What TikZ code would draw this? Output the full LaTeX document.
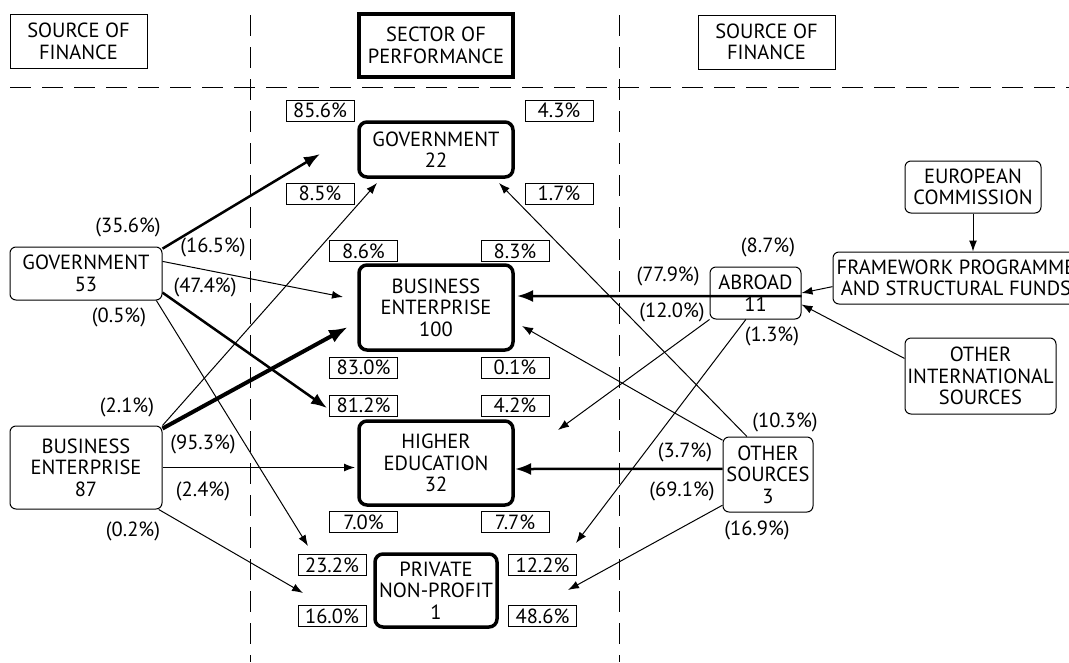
\documentclass[tikz,border=0pt]{standalone}
\usepackage{fontspec}
\setmainfont{PT Sans}
\usetikzlibrary{arrows.meta,positioning}
\tikzset{every picture/.style={
  >={Latex[length=11pt,width=8pt]}   % Filled LaTeX style heads.
  }
}

\begin{document}
\begin{tikzpicture}[
    x=1pt,y=-1pt,
    font=\fontsize{20.5}{21.5}\selectfont,
    headbox/.style={
      rectangle,
      draw,
      line width=1pt,
      align=center,
      inner sep=0pt,
      minimum width=137pt,
      minimum height=54pt
    },
    secbox/.style={
      rectangle,
      rounded corners=8pt,
      draw,
      line width=3.5pt,
      align=center,
      inner sep=0pt,
      minimum width=154pt
    },
    srcbox/.style={
      rectangle,
      rounded corners=6pt,
      draw,
      line width=1pt,
      align=center,
      inner sep=0pt
    },
    pctbox/.style={
      rectangle,
      draw,
      line width=1pt,
      inner sep=0pt,
      minimum width=68pt,
      minimum height=21pt
    },
    share/.style={inner sep=0pt},
    flow/.style={->,line width=1pt},
    bigflow/.style={-{Latex[length=16pt,width=12pt]},line width=2.5pt},
    hugeflow/.style={-{Latex[length=19pt,width=14pt]},line width=4pt},
    divider/.style={dash pattern=on 21pt off 11pt,line width=1pt}
  ]

    \useasboundingbox (0,0) rectangle (1069,662);
    \clip (0,0) rectangle (1069,662);

    % Split the page into the three columns.
    \draw[divider] (10,87) -- (1069,87);
    \draw[divider] (250,15) -- (250,662);
    \draw[divider] (619,15) -- (619,662);

    \node[headbox] (lhead) at (78.5,41.5) {SOURCE OF\\FINANCE};
    \node[headbox,line width=4pt,minimum width=154pt,minimum height=63pt]
      (shead) at (436,45.5) {SECTOR OF\\PERFORMANCE};
    \node[headbox] (rhead) at (766.5,42) {SOURCE OF\\FINANCE};

    % Sectors of performance.
    \node[secbox,minimum height=55pt] (sgov) at (436,149.5) {GOVERNMENT\\22};
    \node[secbox,minimum height=85pt] (sbus) at (436,307.5)
      {BUSINESS\\ENTERPRISE\\100};
    \node[secbox,minimum height=84pt] (shed) at (436,463)
      {HIGHER\\EDUCATION\\32};
    \node[secbox,minimum width=122pt,minimum height=73pt] (spnp) at (436,590.5)
      {PRIVATE\\NON-PROFIT\\1};

    % Shares of each sector's funds.
    \node[pctbox] (p856) at (320,110.5) {85.6\%};
    \node[pctbox] (p85)  at (320,193.5) {8.5\%};
    \node[pctbox] (p43)  at (559,110.5) {4.3\%};
    \node[pctbox] (p17)  at (559,193.5) {1.7\%};
    \node[pctbox] (p86)  at (363.5,251) {8.6\%};
    \node[pctbox] (p83)  at (515,251)   {8.3\%};
    \node[pctbox] (p830) at (363.5,367.5) {83.0\%};
    \node[pctbox] (p01)  at (515,367.5) {0.1\%};
    \node[pctbox] (p812) at (363.5,405.5) {81.2\%};
    \node[pctbox] (p42)  at (515,405.5) {4.2\%};
    \node[pctbox] (p70)  at (363.5,522) {7.0\%};
    \node[pctbox] (p77)  at (515,522)   {7.7\%};
    \node[pctbox] (p232) at (332,565)   {23.2\%};
    \node[pctbox] (p160) at (332,616)   {16.0\%};
    \node[pctbox] (p122) at (542.5,565) {12.2\%};
    \node[pctbox] (p486) at (542.5,616) {48.6\%};

    % Sources of finance.
    \node[srcbox,minimum width=152pt,minimum height=53pt] (fgov) at (86,273.5)
      {GOVERNMENT\\53};
    \node[srcbox,minimum width=152pt,minimum height=83pt] (fbus) at (86,467.5)
      {BUSINESS\\ENTERPRISE\\87};
    \node[srcbox,minimum width=91pt,minimum height=52pt] (fabr) at (755.5,293)
      {ABROAD\\11};
    \node[srcbox,minimum width=90pt,minimum height=75pt] (foth) at (768,474.5)
      {OTHER\\SOURCES\\3};
    \node[srcbox,minimum width=246pt,minimum height=52pt] (fwp) at (956,278)
      {FRAMEWORK PROGRAMME\\AND STRUCTURAL FUNDS};
    \node[srcbox,minimum width=136pt,minimum height=52pt,above=38pt of fwp.north,
      anchor=south,xshift=17pt] (eucom) {EUROPEAN\\COMMISSION};
    \node[srcbox,minimum width=151pt,minimum height=76pt] (oint) at (980.5,376)
      {OTHER\\INTERNATIONAL\\SOURCES};

    % Where the flows end.
    \coordinate (gg) at (320,154);
    \coordinate (gb) at (343,297);
    \coordinate (gh) at (327,408);
    \coordinate (gp) at (308,546);
    \coordinate (bg) at (377,183);
    \coordinate (bb) at (348,327);
    \coordinate (bh) at (355,467.5);
    \coordinate (bp) at (303,593);
    \coordinate (ab) at (517,296);
    \coordinate (ah) at (558,430);
    \coordinate (ap) at (576,543);
    \coordinate (og) at (499,183);
    \coordinate (ob) at (522,326);
    \coordinate (oh) at (515,469);
    \coordinate (op) at (568,590);

    \draw[bigflow] (fgov.18) -- (gg);
    \draw[flow] (fgov.9) -- (gb);
    \draw[bigflow] (fgov.-14) -- (gh);
    \draw[flow] (fgov.-21) -- (gp);
    \draw[flow] (fbus.north east) -- (bg);
    \draw[hugeflow] (fbus.27) -- (bb);
    \draw[flow] (fbus.east) -- (bh);
    \draw[flow] (fbus.-30) -- (bp);
    \draw[bigflow] (fabr.-4) -- (ab);
    \draw[flow] (fabr.south west) -- (ah);
    \draw[flow] (fabr.-110) -- (ap);
    \draw[flow] (foth.119) -- (og);
    \draw[flow] (foth.143) -- (ob);
    \draw[bigflow] (foth.173) -- (oh);
    \draw[flow] (foth.214) -- (op);
    \draw[flow] (eucom.south) -- (eucom.south |- fwp.north);
    \draw[flow] (fwp.184) -- (fabr.east);
    \draw[flow] (oint.167) -- (fabr.-14);

    % Shares of each source's funds.
    \node[share] (s356) at (128,227) {(35.6\%)};
    \node[share] (s165) at (213,247) {(16.5\%)};
    \node[share] (s474) at (205,287) {(47.4\%)};
    \node[share] (s05)  at (119,317) {(0.5\%)};
    \node[share] (s21)  at (127,407) {(2.1\%)};
    \node[share] (s953) at (203,444) {(95.3\%)};
    \node[share] (s24)  at (203,491) {(2.4\%)};
    \node[share] (s02)  at (133,531) {(0.2\%)};
    \node[share] (s87)  at (768,247) {(8.7\%)};
    \node[share] (s779) at (668,276) {(77.9\%)};
    \node[share] (s120) at (672,312) {(12.0\%)};
    \node[share] (s13)  at (772,336) {(1.3\%)};
    \node[share] (s103) at (785,422) {(10.3\%)};
    \node[share] (s37)  at (685,452) {(3.7\%)};
    \node[share] (s691) at (682,491) {(69.1\%)};
    \node[share] (s169) at (757,530) {(16.9\%)};
  \end{tikzpicture}
\end{document}
